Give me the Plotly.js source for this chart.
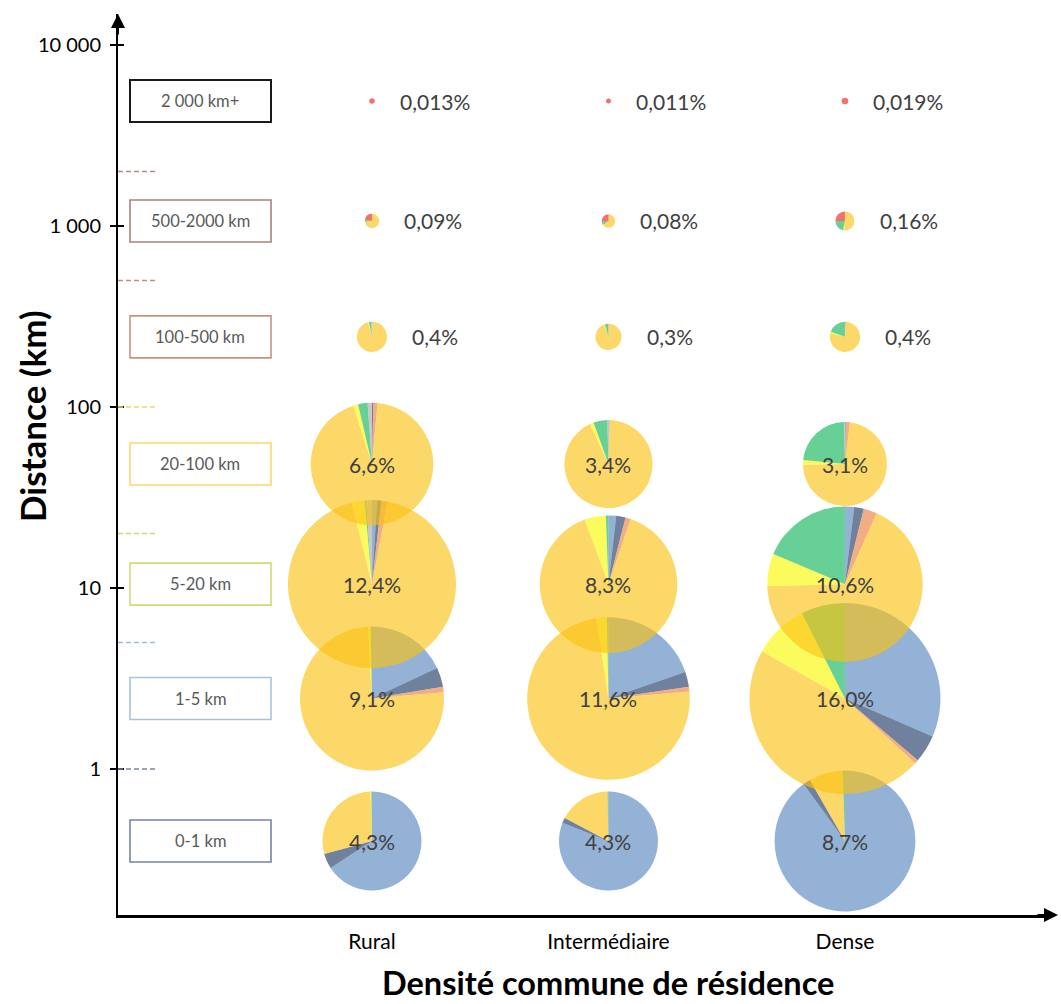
<!DOCTYPE html>
<html><head><meta charset="utf-8">
<script src="https://cdn.plot.ly/plotly-3.0.1.min.js"></script>
<style>html,body{margin:0;padding:0;background:#fff}#chart{width:1061px;height:1004px}</style>
</head><body><div id="chart"></div>
<script>
// ---------- DATA ----------
const densities = ['Rural', 'Intermédiaire', 'Dense'];
const classes = ['0-1 km', '1-5 km', '5-20 km', '20-100 km', '100-500 km', '500-2000 km', '2 000 km+'];
const classCenterKm = [0.4, 2.45, 10.5, 48.4, 244, 1066, 4900];
const classBoundsKm = [1, 5, 20, 100, 500, 2000];
const modes = ['Marche', 'Vélo', 'Deux-roues motorisé', 'Voiture', 'Transports en commun', 'Train', 'Avion', 'Autre'];

// share of all trips (%) for each distance class
const totalRural = [4.3, 9.1, 12.4, 6.6, 0.4, 0.09, 0.013];
const totalInter = [4.3, 11.6, 8.3, 3.4, 0.3, 0.08, 0.011];
const totalDense = [8.7, 16.0, 10.6, 3.1, 0.4, 0.16, 0.019];
const labelDecimals = [1, 1, 1, 1, 1, 2, 3];

// modal split (%) inside each class, in the order of `modes`
const modesRural = [
  [65.8, 5.0, 0, 28.7, 0.3, 0.2, 0, 0],
  [18.0, 4.4, 1.2, 75.5, 0.6, 0.3, 0, 0],
  [1.0, 0.8, 1.2, 93.1, 2.5, 0.3, 0, 1.1],
  [0, 0.35, 1.1, 93.6, 1.3, 2.5, 0, 1.15],
  [0, 0, 0.5, 95.0, 1.2, 2.3, 0, 1.0],
  [0, 0, 0, 72.0, 1.0, 5.0, 22.0, 0],
  [0, 0, 0, 0, 0, 0, 100, 0]
];
const modesInter = [
  [81.0, 1.7, 0, 17.0, 0, 0.3, 0, 0],
  [19.7, 3.0, 0.9, 74.0, 2.1, 0.3, 0, 0],
  [1.8, 2.2, 1.25, 89.1, 5.0, 0.6, 0, 0],
  [0.3, 0, 0.2, 92.6, 1.4, 5.1, 0, 0.4],
  [0, 0, 0.6, 94.0, 1.0, 4.0, 0, 0.4],
  [0, 0, 0, 62.5, 2.0, 8.5, 27.0, 0],
  [0, 0, 0, 0, 0, 0, 100, 0]
];
const modesDense = [
  [90.0, 1.7, 0, 7.8, 0, 0.5, 0, 0],
  [31.5, 4.7, 0.65, 46.4, 9.3, 7.45, 0, 0],
  [1.9, 2.0, 2.8, 67.9, 6.75, 18.65, 0, 0],
  [0.4, 0, 1.5, 72.8, 1.8, 23.2, 0, 0.3],
  [0, 0, 1.0, 78.0, 1.5, 19.5, 0, 0],
  [0, 0, 0, 51.4, 2.0, 21.6, 25.0, 0],
  [0, 0, 0, 0, 0, 0, 100, 0]
];

const yTickVals = [1, 10, 100, 1000, 10000];
const yTickText = ['1', '10', '100', '1 000', '10 000'];

// ---------- STYLE / GEOMETRY ----------
const FONT = 'Lato, "Open Sans", "DejaVu Sans", sans-serif';
const modeColors = [
  'rgba(88,133,191,0.64)', 'rgba(30,58,100,0.64)', 'rgba(236,127,64,0.64)', 'rgba(251,194,20,0.64)',
  'rgba(249,249,3,0.64)', 'rgba(17,182,91,0.64)', 'rgba(241,30,30,0.64)', 'rgba(169,169,169,0.64)'
];
const boxColors = ['#7682aa', '#a9c3dc', '#d2da76', '#fcd96c', '#c99280', '#a5847c', '#1a1a1a'];
const boundColors = ['#7885a8', '#a3bad8', '#cfd77a', '#fbd46a', '#c78a80', '#b48a80'];

const W = 1061, H = 1004;
const M = {l: 118, r: 11, t: 14, b: 89};
const plotW = W - M.l - M.r, plotH = H - M.t - M.b;
const xRange = [-1.074, 2.867];
const yRange = [-0.8066, 4.171];
const pxPerDecade = plotH / (yRange[1] - yRange[0]);
const RADIUS_K = 23.87; // px per sqrt(%)  -> pie area proportional to share

const xToPaper = x => (x - xRange[0]) / (xRange[1] - xRange[0]);
const yToPaper = v => (Math.log10(v) - yRange[0]) / (yRange[1] - yRange[0]);
const shiftKm = (v, px) => v * Math.pow(10, px / pxPerDecade);

const totals = [totalRural, totalInter, totalDense];
const splits = [modesRural, modesInter, modesDense];

const traces = [];
const annotations = [];

// keep the cartesian axes alive
traces.push({type: 'scatter', x: [], y: [], xaxis: 'x', yaxis: 'y', showlegend: false, hoverinfo: 'skip'});
traces.push({type: 'scatter', x: [], y: [], xaxis: 'x', yaxis: 'y2', showlegend: false, hoverinfo: 'skip'});

const fmt = (v, d) => v.toFixed(d).replace('.', ',') + '%';

for (let c = 0; c < densities.length; c++) {
  for (let r = 0; r < classes.length; r++) {
    const p = totals[c][r];
    const rad = RADIUS_K * Math.sqrt(p);
    const cx = xToPaper(c), cy = yToPaper(classCenterKm[r]);
    traces.push({
      type: 'pie',
      name: densities[c] + ' ' + classes[r],
      labels: modes,
      values: splits[c][r],
      sort: false,
      direction: 'clockwise',
      rotation: 0,
      textinfo: 'none',
      hoverinfo: 'label+percent+name',
      showlegend: false,
      marker: {colors: modeColors, line: {width: 0}},
      domain: {
        x: [cx - rad / plotW, cx + rad / plotW],
        y: [cy - rad / plotH, cy + rad / plotH]
      }
    });
    const small = r >= 4;
    annotations.push({
      xref: 'x', yref: 'y', x: c, y: Math.log10(classCenterKm[r]),
      text: fmt(p, labelDecimals[r]), showarrow: false,
      xanchor: small ? 'left' : 'center', xshift: small ? rad + 23 : 0,
      font: {family: FONT, size: 21, color: '#404040'}
    });
  }
}

const shapes = [];
classes.forEach((cl, i) => {
  shapes.push({
    type: 'rect', xref: 'paper', xsizemode: 'pixel', xanchor: 0, x0: 12, x1: 153,
    yref: 'y', y0: shiftKm(classCenterKm[i], -21), y1: shiftKm(classCenterKm[i], 21),
    line: {color: boxColors[i], width: i === 6 ? 2 : 1.6}, fillcolor: 'white', layer: 'below'
  });
  annotations.push({
    xref: 'paper', x: 0, xshift: 82, xanchor: 'center',
    yref: 'y', y: Math.log10(classCenterKm[i]),
    text: cl, showarrow: false,
    font: {family: FONT, size: 16.5, color: '#595959'}
  });
});
classBoundsKm.forEach((b, i) => {
  shapes.push({
    type: 'line', xref: 'paper', xsizemode: 'pixel', xanchor: 0, x0: 0, x1: 37,
    yref: 'y', y0: b, y1: b,
    line: {color: boundColors[i], width: 1.6, dash: '5px,3px'}
  });
});

// axis arrows
annotations.push({xref: 'paper', yref: 'paper', x: 0, y: 1, ax: 0, ay: 22, text: '', showarrow: true,
  arrowhead: 2, arrowsize: 1.4, arrowwidth: 2, arrowcolor: '#000', standoff: 0});
annotations.push({xref: 'paper', yref: 'paper', x: 1 + 8 / plotW, y: 0, ax: -22, ay: 0, text: '', showarrow: true,
  arrowhead: 2, arrowsize: 1.4, arrowwidth: 2, arrowcolor: '#000', standoff: 0});

// axis titles
annotations.push({xref: 'paper', yref: 'paper', x: 0, xshift: -86, xanchor: 'center',
  y: (H - M.b - 416) / plotH, yanchor: 'middle',
  text: '<b>Distance (km)</b>', textangle: -90, showarrow: false,
  font: {family: FONT, size: 35, color: '#000'}});
annotations.push({xref: 'x', yref: 'paper', x: 1, xanchor: 'center', y: -67 / plotH, yanchor: 'middle',
  text: '<b>Densité commune de résidence</b>', showarrow: false,
  font: {family: FONT, size: 32.5, color: '#000'}});

const layout = {
  width: W, height: H,
  margin: M,
  paper_bgcolor: '#fff', plot_bgcolor: 'rgba(0,0,0,0)',
  showlegend: false,
  font: {family: FONT},
  xaxis: {
    range: xRange, showgrid: false, zeroline: false, showline: true, linecolor: '#000', linewidth: 2.5,
    tickvals: [0, 1, 2], ticktext: densities, ticks: '', ticklabelstandoff: 6,
    tickfont: {family: FONT, size: 21, color: '#000'}, fixedrange: true
  },
  yaxis: {
    type: 'log', range: yRange, showgrid: false, zeroline: false, showline: true, linecolor: '#000', linewidth: 2,
    tickvals: yTickVals, ticktext: yTickText, ticks: 'outside', ticklen: 6, tickwidth: 1.6, tickcolor: '#000',
    ticklabelstandoff: 5,
    tickfont: {family: FONT, size: 20, color: '#000'}, fixedrange: true
  },
  yaxis2: {
    type: 'log', range: yRange, overlaying: 'y', side: 'left', anchor: 'x', showgrid: false, zeroline: false,
    showline: false, tickvals: yTickVals, showticklabels: false, ticks: 'inside', ticklen: 6, tickwidth: 1.6,
    tickcolor: '#000', fixedrange: true
  },
  shapes: shapes,
  annotations: annotations
};

Plotly.newPlot('chart', traces, layout, {displayModeBar: false, staticPlot: true});
</script>
</body></html>
